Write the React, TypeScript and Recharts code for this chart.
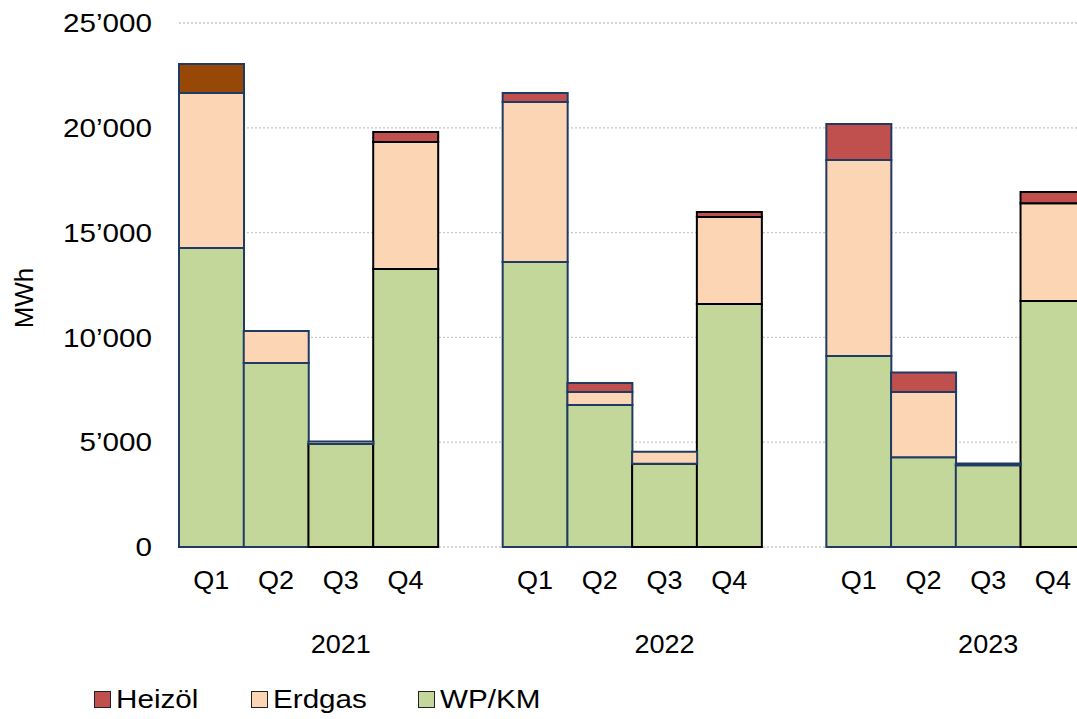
import { BarChart, Bar, XAxis, YAxis, CartesianGrid, Legend, Cell } from 'recharts';

const YEARS = ['2021', '2022', '2023'];
const QUARTERS = ['Q1', 'Q2', 'Q3', 'Q4'];

// MWh per quarter, 2021 Q1 .. 2023 Q4
const WP_KM = [14270, 8780, 4910, 13260, 13600, 6770, 3970, 11590, 9110, 4280, 3900, 11740];
const ERDGAS = [7390, 1530, 120, 6060, 7630, 630, 580, 4150, 9350, 3120, 80, 4660];
const HEIZOEL = [1380, 0, 0, 480, 430, 420, 0, 240, 1720, 930, 0, 540];

const Y_TICKS = [0, 5000, 10000, 15000, 20000, 25000];

const FONT = '"Liberation Sans", Arial, sans-serif';
const FONT_SIZE = 26;
const WIDE = 1.14; // the labels are set slightly wider than the plain font

const GREEN = '#c4d79b';
const PEACH = '#fcd5b5';
const RED = '#c0504d';
const BROWN = '#974706';
const NAVY = '#1f3a63';
const BLACK = '#000000';

// outline colour per quarter bar, per series
const N = NAVY;
const K = BLACK;
const OUTLINE_WP = [N, N, K, K, N, N, K, K, N, N, N, K];
const OUTLINE_GAS = [N, N, N, K, N, N, N, K, N, N, N, K];
const OUTLINE_OIL = [N, N, N, K, N, N, N, K, N, N, N, K];

type Row = {
  q: string;
  year: string;
  slot: number;
  idx: number;
  wp: number | null;
  gas: number | null;
  oil: number | null;
};

// each year gets its four quarters plus one empty slot as spacer
const rows: Row[] = [];
YEARS.forEach((year, y) => {
  QUARTERS.forEach((q, s) => {
    const i = y * 4 + s;
    rows.push({ q, year, slot: s, idx: i, wp: WP_KM[i], gas: ERDGAS[i], oil: HEIZOEL[i] });
  });
  rows.push({ q: '', year, slot: 4, idx: -1, wp: null, gas: null, oil: null });
});

const fmt = (n: number) =>
  n === 0 ? '0' : `${Math.floor(n / 1000)}\u2019${String(n % 1000).padStart(3, '0')}`;

const YTick = ({ x, y, payload }: any) => (
  <g transform={`translate(${x}, ${y}) scale(${WIDE}, 1)`}>
    <text x={0} y={0} dy="0.355em" textAnchor="end" fontSize={FONT_SIZE} fontFamily={FONT} fill="#000">
      {fmt(payload.value)}
    </text>
  </g>
);

const XTick = ({ x, y, payload, index }: any) => {
  const i = payload?.index ?? index;
  const row = rows[i];
  return (
    <g transform={`translate(${x}, ${y}) scale(1.04, 1)`}>
      <text x={0} y={0} dy="0.355em" textAnchor="middle" fontSize={FONT_SIZE} fontFamily={FONT} fill="#000">
        {payload.value}
      </text>
      {row && row.slot === 2 && (
        <text x={0} y={64} dy="0.355em" textAnchor="middle" fontSize={FONT_SIZE} fontFamily={FONT} fill="#000">
          {row.year}
        </text>
      )}
    </g>
  );
};

const UnitLabel = ({ viewBox }: any) => {
  const cx = (viewBox?.x ?? 0) + 24;
  const cy = (viewBox?.y ?? 0) + (viewBox?.height ?? 0) / 2 + 13;
  return (
    <text
      x={cx}
      y={cy}
      dy="0.355em"
      textAnchor="middle"
      fontSize={FONT_SIZE}
      fontFamily={FONT}
      fill="#000"
      transform={`rotate(-90, ${cx}, ${cy})`}
    >
      MWh
    </text>
  );
};

const LEGEND_ITEMS = [
  { name: 'Heizöl', color: RED, left: 94 },
  { name: 'Erdgas', color: PEACH, left: 251 },
  { name: 'WP/KM', color: GREEN, left: 418 },
];

const LegendBox = () => (
  <div style={{ position: 'relative', height: 40, fontFamily: FONT, fontSize: FONT_SIZE }}>
    {LEGEND_ITEMS.map((it) => (
      <div
        key={it.name}
        style={{
          position: 'absolute',
          left: it.left,
          top: 0,
          height: 40,
          display: 'flex',
          alignItems: 'center',
          whiteSpace: 'nowrap',
        }}
      >
        <span
          style={{
            display: 'inline-block',
            width: 17,
            height: 17,
            boxSizing: 'border-box',
            border: '1.5px solid #222',
            background: it.color,
          }}
        />
        <span
          style={{
            display: 'inline-block',
            marginLeft: 5,
            color: '#000',
            transform: `scaleX(${WIDE})`,
            transformOrigin: 'left center',
          }}
        >
          {it.name}
        </span>
      </div>
    ))}
  </div>
);

export default function App() {
  return (
    <div
      style={{
        position: 'absolute',
        left: 0,
        top: 0,
        width: 1077,
        height: 719,
        overflow: 'hidden',
        background: '#fff',
      }}
    >
      <BarChart
        width={1150}
        height={719}
        data={rows}
        margin={{ top: 23, right: 0, bottom: 22, left: 0 }}
        barCategoryGap={0}
        barGap={0}
      >
        <CartesianGrid vertical={false} stroke="#c8c8c8" strokeDasharray="2 2" strokeWidth={1.3} />
        <XAxis
          dataKey="q"
          interval={0}
          axisLine={false}
          tickLine={false}
          tickSize={0}
          tickMargin={33}
          height={110}
          tick={<XTick />}
        />
        <YAxis
          width={179}
          domain={[0, 25000]}
          ticks={Y_TICKS}
          axisLine={false}
          tickLine={false}
          tickSize={0}
          tickMargin={27}
          tick={<YTick />}
          label={<UnitLabel />}
        />
        <Legend verticalAlign="bottom" wrapperStyle={{ left: 0, bottom: 0, width: 700, height: 40 }} content={() => <LegendBox />} />
        <Bar dataKey="wp" name="WP/KM" stackId="s" fill={GREEN} strokeWidth={2} isAnimationActive={false}>
          {rows.map((r, i) => (
            <Cell key={`wp-${i}`} fill={GREEN} stroke={r.idx >= 0 ? OUTLINE_WP[r.idx] : 'none'} />
          ))}
        </Bar>
        <Bar dataKey="gas" name="Erdgas" stackId="s" fill={PEACH} strokeWidth={2} isAnimationActive={false}>
          {rows.map((r, i) => (
            <Cell key={`gas-${i}`} fill={PEACH} stroke={r.idx >= 0 ? OUTLINE_GAS[r.idx] : 'none'} />
          ))}
        </Bar>
        <Bar dataKey="oil" name="Heizöl" stackId="s" fill={RED} strokeWidth={2} isAnimationActive={false}>
          {rows.map((r, i) => (
            <Cell
              key={`oil-${i}`}
              fill={r.idx === 0 ? BROWN : RED}
              stroke={r.idx >= 0 ? OUTLINE_OIL[r.idx] : 'none'}
            />
          ))}
        </Bar>
      </BarChart>
    </div>
  );
}
